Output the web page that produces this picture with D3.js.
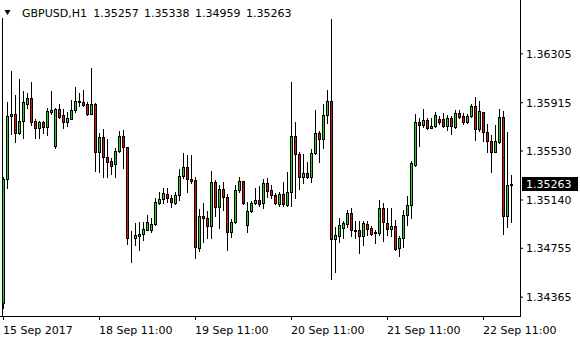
<!DOCTYPE html>
<html><head><meta charset="utf-8">
<script src="https://cdn.jsdelivr.net/npm/d3@7"></script>
<style>
body{margin:0;background:#fff}
svg{display:block}
text{font-family:"DejaVu Sans",sans-serif;font-size:11px;fill:#000}
</style>
</head><body>
<svg id="c" width="580" height="340"></svg>
<script>
// ---------- DATA ----------
const symbol = "GBPUSD,H1";
const headerValues = ["1.35257", "1.35338", "1.34959", "1.35263"];
const lastPrice = 1.35263;
const lastPriceLabel = "1.35263";
const priceTicks = [1.36305, 1.35915, 1.35530, 1.35140, 1.34755, 1.34365];
const priceTickLabels = ["1.36305", "1.35915", "1.35530", "1.35140", "1.34755", "1.34365"];
const timeTickIndex = [0, 24, 48, 72, 96, 120];
const timeTickLabels = ["15 Sep 2017", "18 Sep 11:00", "19 Sep 11:00", "20 Sep 11:00", "21 Sep 11:00", "22 Sep 11:00"];

const opens = [1.34312,1.35300,1.35802,1.35821,1.35667,1.35768,1.35903,1.35946,1.35762,1.35707,
1.35754,1.35715,1.35840,1.35569,1.35858,1.35813,1.35760,1.35784,1.35855,1.35922,
1.35919,1.35901,1.35824,1.35898,1.35515,1.35635,1.35476,1.35446,1.35420,1.35526,
1.35643,1.35555,1.34830,1.34830,1.34851,1.34862,1.34896,1.34894,1.34941,1.35109,
1.35141,1.35183,1.35151,1.35114,1.35173,1.35324,1.35396,1.35305,1.35295,1.34750,
1.35008,1.34992,1.34931,1.35276,1.35082,1.35223,1.35157,1.34878,1.34957,1.35215,
1.35287,1.34933,1.35045,1.35109,1.35135,1.35109,1.35268,1.35215,1.35175,1.35106,
1.35181,1.35096,1.35197,1.35646,1.35499,1.35321,1.35348,1.35321,1.35507,1.35669,
1.35624,1.35813,1.35924,1.34822,1.34846,1.34915,1.34947,1.35029,1.34896,1.34896,
1.34846,1.34941,1.34910,1.34880,1.34875,1.35069,1.34949,1.34902,1.34928,1.34750,
1.34830,1.35013,1.35093,1.35414,1.35757,1.35736,1.35770,1.35712,1.35723,1.35778,
1.35778,1.35723,1.35789,1.35717,1.35826,1.35805,1.35760,1.35808,1.35887,1.35701,
1.35834,1.35675,1.35608,1.35521,1.35600,1.35794,1.35011,1.35257];

const highs = [1.35321,1.35914,1.36164,1.35972,1.36100,1.36004,1.35986,1.36073,1.35781,1.35768,
1.35765,1.35866,1.36004,1.35871,1.35901,1.35858,1.35840,1.35932,1.36039,1.35986,
1.36012,1.35914,1.36190,1.35906,1.35667,1.35701,1.35619,1.35473,1.35547,1.35685,
1.35693,1.35561,1.34888,1.34949,1.34957,1.34963,1.35016,1.34989,1.35149,1.35202,
1.35228,1.35234,1.35175,1.35202,1.35382,1.35513,1.35494,1.35494,1.35316,1.35064,
1.35109,1.35048,1.35367,1.35295,1.35255,1.35276,1.35181,1.34984,1.35255,1.35316,
1.35290,1.35122,1.35127,1.35234,1.35250,1.35303,1.35313,1.35255,1.35189,1.35197,
1.35282,1.35361,1.36079,1.35760,1.35521,1.35499,1.35441,1.35539,1.35853,1.35685,
1.35898,1.36012,1.36578,1.34918,1.34995,1.34968,1.35056,1.35074,1.34968,1.34968,
1.34968,1.34968,1.34931,1.34896,1.35135,1.35114,1.35074,1.35074,1.34976,1.34848,
1.35056,1.35167,1.35449,1.35818,1.35792,1.35861,1.35789,1.35792,1.35840,1.35805,
1.35826,1.35813,1.35805,1.35853,1.35853,1.35826,1.35818,1.35898,1.35956,1.35924,
1.35840,1.35739,1.35654,1.35733,1.35861,1.35845,1.35680,1.35338];

const lows = [1.34272,1.35228,1.35659,1.35600,1.35659,1.35632,1.35871,1.35733,1.35627,1.35627,
1.35667,1.35654,1.35821,1.35547,1.35792,1.35712,1.35728,1.35781,1.35840,1.35887,
1.35887,1.35813,1.35821,1.35369,1.35361,1.35321,1.35321,1.35340,1.35321,1.35515,
1.35393,1.34785,1.34639,1.34777,1.34734,1.34817,1.34896,1.34883,1.34936,1.35101,
1.35109,1.35117,1.35082,1.35101,1.35135,1.35308,1.35202,1.35268,1.34670,1.34729,
1.34803,1.34835,1.34835,1.35011,1.34910,1.35056,1.34734,1.34843,1.34949,1.35197,
1.35104,1.34883,1.35042,1.35101,1.35090,1.35074,1.35162,1.35154,1.35101,1.35090,
1.35090,1.35088,1.35090,1.35149,1.35220,1.35268,1.35308,1.35282,1.35499,1.35441,
1.35547,1.35752,1.34503,1.34559,1.34803,1.34835,1.34920,1.34851,1.34830,1.34716,
1.34777,1.34856,1.34856,1.34795,1.34856,1.34811,1.34856,1.34851,1.34737,1.34692,
1.34763,1.34936,1.34989,1.35409,1.35569,1.35717,1.35701,1.35712,1.35720,1.35741,
1.35717,1.35696,1.35664,1.35709,1.35792,1.35744,1.35749,1.35797,1.35614,1.35685,
1.35606,1.35521,1.35361,1.35521,1.35592,1.34867,1.34923,1.34959];

const closes = [1.35303,1.35805,1.35821,1.35667,1.35762,1.35914,1.35946,1.35760,1.35707,1.35754,
1.35715,1.35842,1.35855,1.35858,1.35800,1.35760,1.35786,1.35855,1.35922,1.35917,
1.35895,1.35821,1.35901,1.35515,1.35635,1.35476,1.35441,1.35409,1.35526,1.35643,
1.35555,1.34830,1.34835,1.34856,1.34864,1.34902,1.34963,1.34944,1.35117,1.35141,
1.35189,1.35149,1.35117,1.35173,1.35327,1.35396,1.35300,1.35290,1.34758,1.35008,
1.34989,1.34931,1.35276,1.35082,1.35223,1.35157,1.34878,1.34957,1.35215,1.35287,
1.35114,1.35045,1.35109,1.35135,1.35106,1.35268,1.35210,1.35173,1.35109,1.35181,
1.35101,1.35197,1.35646,1.35499,1.35321,1.35348,1.35319,1.35510,1.35669,1.35624,
1.35813,1.35924,1.34822,1.34854,1.34936,1.34949,1.35029,1.34894,1.34891,1.34846,
1.34949,1.34907,1.34867,1.34870,1.35069,1.34957,1.34902,1.34928,1.34745,1.34830,
1.35016,1.35093,1.35433,1.35754,1.35736,1.35770,1.35712,1.35725,1.35813,1.35757,
1.35723,1.35789,1.35723,1.35826,1.35800,1.35760,1.35808,1.35887,1.35699,1.35842,
1.35675,1.35608,1.35521,1.35608,1.35794,1.35005,1.35257,1.35263];

// ---------- LAYOUT ----------
const W = 580, H = 340;
const plotRight = 520, plotBottom = 316;
const bullColor = "#1ed21e", bearColor = "#e01010";

const svg = d3.select("#c");
svg.append("rect").attr("width", W).attr("height", H).attr("fill", "#fff");

const n = opens.length;
const x = d3.scaleLinear().domain([0, n - 1]).range([3, 3 + 4 * (n - 1)]);
const y = d3.scaleLinear().domain([1.34365, 1.36305]).range([296.7, 53.3]);

const candles = d3.range(n).map(i => ({i, o: opens[i], h: highs[i], l: lows[i], c: closes[i]}));

const g = svg.append("g");

// left edge line
g.append("line").attr("x1", 2.5).attr("x2", 2.5).attr("y1", 18).attr("y2", plotBottom)
  .attr("stroke", "#000").attr("stroke-width", 1);

// wicks
g.selectAll("line.wick").data(candles).join("line").attr("class", "wick")
  .attr("x1", d => Math.round(x(d.i)) + 0.5).attr("x2", d => Math.round(x(d.i)) + 0.5)
  .attr("y1", d => Math.round(y(d.h))).attr("y2", d => Math.round(y(d.l)) + 1)
  .attr("stroke", "#000").attr("stroke-width", 1).attr("shape-rendering", "crispEdges");

// bodies
g.selectAll("rect.body").data(candles).join("rect").attr("class", "body")
  .attr("x", d => Math.round(x(d.i)) - 0.5)
  .attr("y", d => Math.round(y(Math.max(d.o, d.c))) + 0.5)
  .attr("width", 2)
  .attr("height", d => Math.max(0, Math.round(y(Math.min(d.o, d.c))) - Math.round(y(Math.max(d.o, d.c)))))
  .attr("fill", d => d.c >= d.o ? bullColor : bearColor)
  .attr("stroke", "#000").attr("stroke-width", 1);

// frame
svg.append("line").attr("x1", plotRight + 0.5).attr("x2", plotRight + 0.5).attr("y1", 0).attr("y2", plotBottom + 1)
  .attr("stroke", "#000");
svg.append("line").attr("x1", 0).attr("x2", plotRight + 1).attr("y1", plotBottom + 0.5).attr("y2", plotBottom + 0.5)
  .attr("stroke", "#000");

// price axis
const yAxis = d3.axisRight(y).tickValues(priceTicks).tickSize(3).tickPadding(3)
  .tickFormat((d, i) => priceTickLabels[i]);
const ya = svg.append("g").attr("transform", `translate(${plotRight},0)`).call(yAxis);
ya.select(".domain").remove();
ya.selectAll("text").attr("font-family", null).attr("font-size", null).attr("fill", "#000")
  .attr("x", 6).attr("dy", null).attr("y", 4);
ya.selectAll(".tick line").attr("stroke", "#000");

// time axis
const xAxis = d3.axisBottom(x).tickValues(timeTickIndex).tickSize(4)
  .tickFormat((d, i) => timeTickLabels[i]);
const xa = svg.append("g").attr("transform", `translate(0,${plotBottom})`).call(xAxis);
xa.select(".domain").remove();
xa.selectAll("text").attr("font-family", null).attr("font-size", null).attr("fill", "#000")
  .attr("text-anchor", "start").attr("x", -0.5).attr("dy", null).attr("y", 18);
xa.selectAll(".tick line").attr("stroke", "#000");

// current price label
const ly = Math.round(y(lastPrice));
svg.append("rect").attr("x", plotRight + 2).attr("y", ly - 7).attr("width", 56).attr("height", 14).attr("fill", "#000");
svg.append("text").attr("x", plotRight + 6).attr("y", ly + 4).style("fill", "#fff").text(lastPriceLabel);

// header
svg.append("path").attr("d", "M4.5,10 L10.5,10 L7.5,15 Z").attr("fill", "#000");
const hx = [22, 93.3, 144, 195, 246];
[symbol].concat(headerValues).forEach((t, i) => {
  svg.append("text").attr("x", hx[i]).attr("y", 17).text(t);
});
</script>
</body></html>
